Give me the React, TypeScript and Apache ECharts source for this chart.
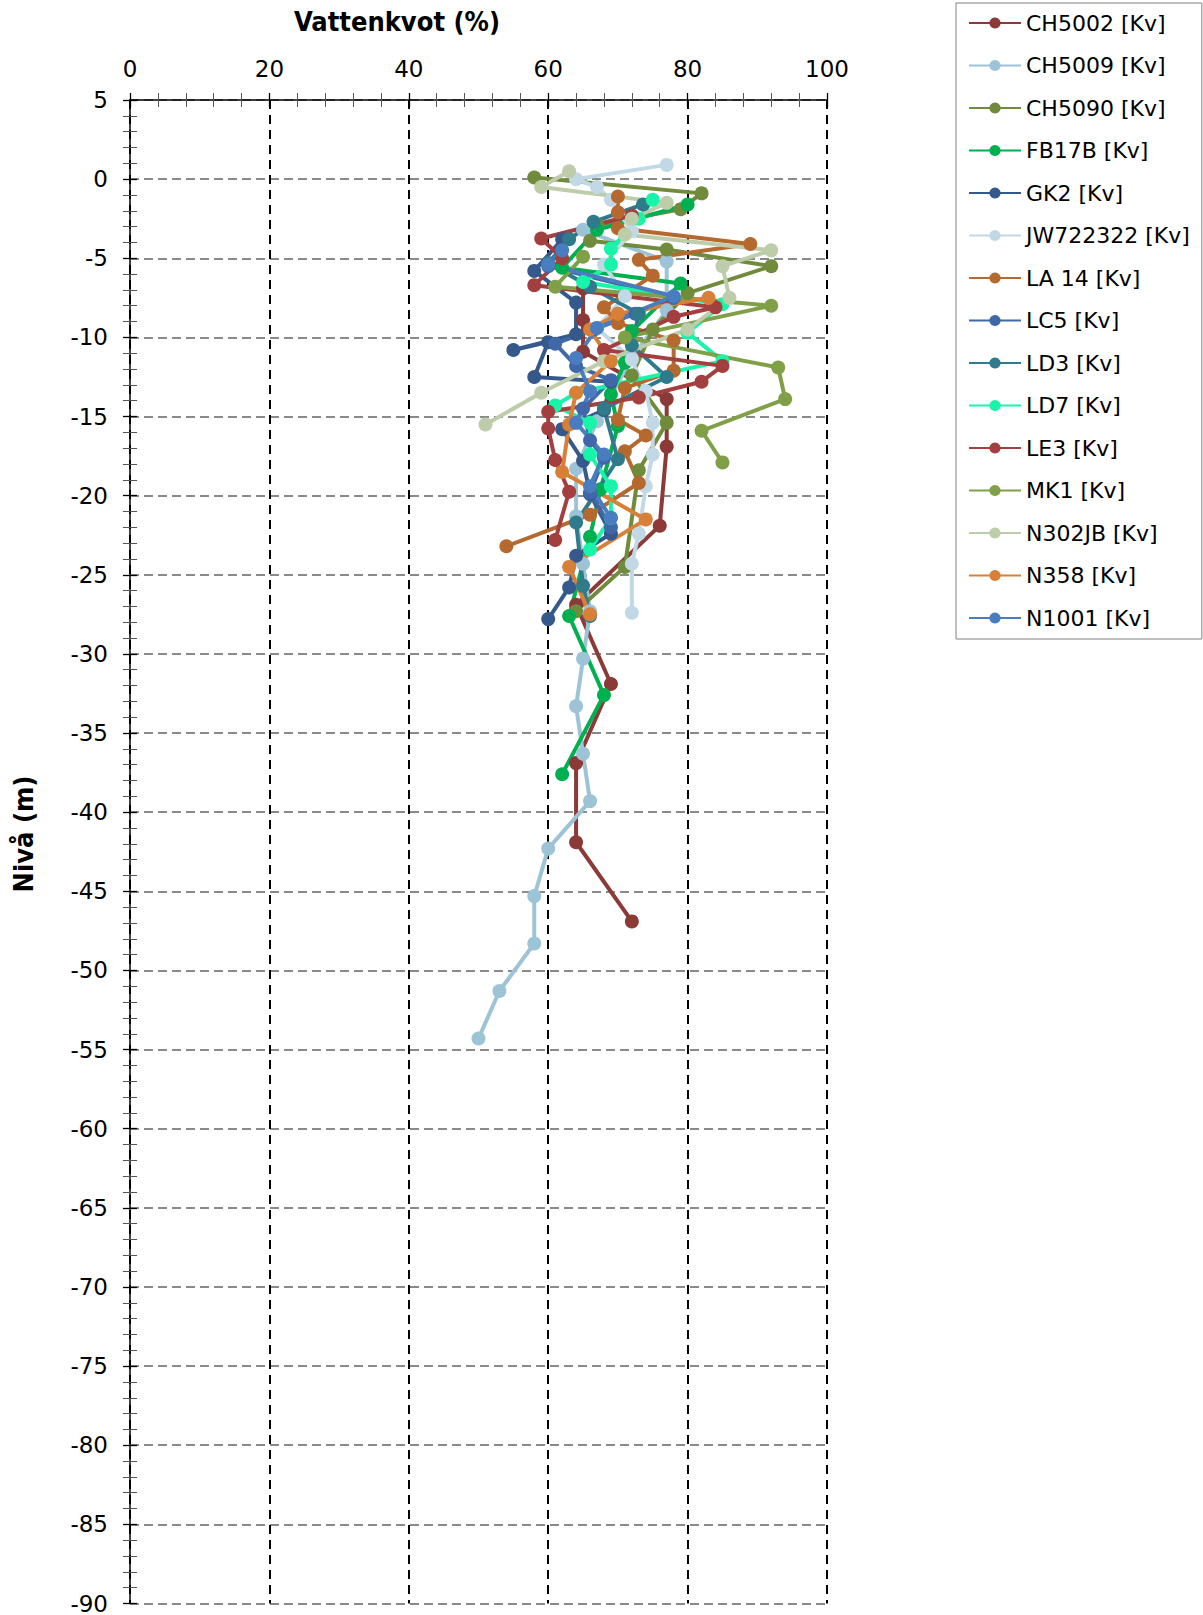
import React, { useEffect, useRef } from 'react';
import * as echarts from 'echarts';

// ---- data: [vattenkvot (%), nivå (m)] ----
const CH5002: number[][] = [[65, -6.9], [65, -8.9], [65, -10.9], [77, -13.9], [77, -16.9], [76, -21.9], [64, -26.9], [69, -31.9], [64, -36.9], [64, -41.9], [72, -46.9]];
const CH5009: number[][] = [[65, -3.2], [77, -5.2], [77, -8.3], [72, -11.3], [67, -15.3], [64, -18.3], [64, -21.3], [65, -24.3], [66, -27.3], [65, -30.3], [64, -33.3], [65, -36.3], [66, -39.3], [60, -42.3], [58, -45.3], [58, -48.3], [53, -51.3], [50, -54.3]];
const CH5090: number[][] = [[58, 0.1], [82, -0.9], [79, -1.9], [67, -2.9], [66, -3.9], [77, -4.45], [92, -5.5], [80, -7.2], [75, -9.5], [72, -12.4], [77, -15.4], [73, -18.4], [71, -24.5], [64, -27.3]];
const FB17B: number[][] = [[80, -1.6], [67, -3.2], [62, -5.6], [79, -6.6], [72, -9.6], [71, -11.6], [69, -13.6], [70, -15.6], [67.5, -19.6], [66, -22.6], [63, -27.6], [68, -32.6], [62, -37.6]];
const GK2: number[][] = [[62, -3.8], [58, -5.8], [64, -7.8], [64, -9.8], [55, -10.8], [60, -10.3], [58, -12.5], [69, -12.8], [68, -14.6], [62, -15.8], [65, -17.8], [66, -19.9], [69, -22.4], [64, -23.8], [63, -25.8], [60, -27.8]];
const JW722322: number[][] = [[77, 0.9], [64, 0.0], [67, -0.5], [69, -1.3], [72, -3.3], [68, -5.4], [71, -7.4], [67, -9.4], [72, -11.4], [74, -13.4], [75, -15.4], [75, -17.4], [74, -19.4], [73, -22.4], [72, -24.3], [72, -27.4]];
const LA14: number[][] = [[70, -1.1], [70, -2.1], [70, -3.1], [89, -4.1], [73, -5.1], [75, -6.1], [68, -8.1], [70, -9.1], [78, -10.2], [78, -12.1], [71, -13.2], [70, -15.2], [74, -16.2], [71, -17.2], [73, -19.2], [66, -21.2], [54, -23.2]];
const LC5: number[][] = [[60, -5.5], [78, -7.5], [72.5, -8.5], [66.6, -9.5], [61, -10.4], [64, -11.8], [69, -12.7], [65, -14.5], [66, -16.5], [68, -17.6], [66, -19.8], [69, -22.0]];
const LD3: number[][] = [[73.6, -1.6], [66.5, -2.7], [63, -3.8], [60, -5.3], [66, -6.8], [73, -8.5], [72, -10.5], [77, -12.5], [68, -14.5], [70, -17.7], [64, -21.7], [65, -25.7], [66, -27.6]];
const LD7: number[][] = [[75, -1.3], [73, -2.5], [69, -4.4], [69, -5.4], [65, -6.5], [85, -7.9], [80, -9.7], [85, -11.5], [64, -13.5], [61, -14.3], [66, -15.4], [66, -17.4], [69, -19.4], [69, -21.4], [66, -23.4]];
const LE3: number[][] = [[72, -2.3], [59, -3.75], [62, -5.0], [58, -6.7], [84, -8.1], [78, -8.7], [68, -10.8], [85, -11.8], [82, -12.8], [73, -13.8], [60, -14.7], [60, -15.75], [61, -17.75], [63, -19.75], [61, -22.8]];
const MK1: number[][] = [[65, -4.9], [61, -6.8], [92, -8.0], [71, -10.0], [93, -11.9], [94, -13.9], [82, -15.9], [85, -17.9]];
const N302JB: number[][] = [[63, 0.5], [59, -0.5], [77, -1.5], [72, -2.5], [71, -3.5], [92, -4.5], [85, -5.5], [86, -7.5], [80, -9.5], [68, -11.5], [59, -13.5], [51, -15.5]];
const N358: number[][] = [[83, -7.5], [70, -8.5], [66, -9.5], [69, -11.5], [64, -13.5], [63, -15.5], [62, -18.5], [74, -21.5], [63, -24.5], [66, -27.5]];
const N1001: number[][] = [[62, -4.5], [60, -5.4], [78, -7.4], [67, -9.4], [64, -11.3], [66, -13.4], [64, -15.4], [68, -17.4], [66, -19.4], [69, -21.4]];

const seriesNames = ['CH5002 [Kv]', 'CH5009 [Kv]', 'CH5090 [Kv]', 'FB17B [Kv]', 'GK2 [Kv]', 'JW722322 [Kv]', 'LA 14 [Kv]', 'LC5 [Kv]', 'LD3 [Kv]', 'LD7 [Kv]', 'LE3 [Kv]', 'MK1 [Kv]', 'N302JB [Kv]', 'N358 [Kv]', 'N1001 [Kv]'];
const seriesData = [CH5002, CH5009, CH5090, FB17B, GK2, JW722322, LA14, LC5, LD3, LD7, LE3, MK1, N302JB, N358, N1001];
const seriesColors = ['#8b3a37', '#9dc3d6', '#6f8b3b', '#00b050', '#36598b', '#c1d9e6', '#b5692f', '#4068a8', '#2f7b8c', '#19f5a8', '#a33f3f', '#80a048', '#bdcca9', '#d98038', '#4a7dbf'];

const xMin = 0, xMax = 100, xInterval = 20;
const yMin = -90, yMax = 5, yInterval = 5;

export default function App() {
  const ref = useRef<HTMLDivElement>(null);
  useEffect(() => {
    document.body.style.margin = '0';
    const chart = echarts.init(ref.current!, null, { renderer: 'svg' });
    const tickFont = 'DejaVu Sans';
    const option: any = {
      animation: false,
      backgroundColor: '#fff',
      grid: { left: 130, top: 100, width: 697, height: 1504, containLabel: false },
      xAxis: [
        {
          type: 'value', position: 'top', min: xMin, max: xMax, interval: xInterval,
          axisLine: { show: true, onZero: false, lineStyle: { color: '#000', width: 1.5 } },
          axisTick: { show: true, length: 7, lineStyle: { color: '#000', width: 1.3 } },
          minorTick: { show: true, splitNumber: 5, length: 7, lineStyle: { color: '#555', width: 1 } },
          splitLine: { show: true, lineStyle: { color: '#000', type: [9, 6], width: 2 } },
          axisLabel: { fontSize: 23, color: '#000', fontFamily: tickFont, margin: 20 },
        },
        {
          type: 'value', position: 'top', min: xMin, max: xMax, interval: xInterval,
          axisLine: { show: false, onZero: false },
          axisTick: { show: true, inside: true, length: 7, lineStyle: { color: '#000', width: 1.3 } },
          minorTick: { show: true, splitNumber: 5, length: 7, lineStyle: { color: '#555', width: 1 } },
          splitLine: { show: false },
          axisLabel: { show: false },
        },
      ],
      yAxis: [
        {
          type: 'value', position: 'left', min: yMin, max: yMax, interval: yInterval,
          axisLine: { show: true, onZero: false, lineStyle: { color: '#000', width: 1.5 } },
          axisTick: { show: true, length: 7, lineStyle: { color: '#000', width: 1.3 } },
          minorTick: { show: true, splitNumber: 5, length: 7, lineStyle: { color: '#555', width: 1 } },
          splitLine: { show: true, lineStyle: { color: '#8a8a8a', type: [9, 5], width: 2 } },
          axisLabel: { fontSize: 23, color: '#000', fontFamily: tickFont, margin: 22 },
        },
        {
          type: 'value', position: 'left', min: yMin, max: yMax, interval: yInterval,
          axisLine: { show: false, onZero: false },
          axisTick: { show: true, inside: true, length: 7, lineStyle: { color: '#000', width: 1.3 } },
          minorTick: { show: true, splitNumber: 5, length: 7, lineStyle: { color: '#555', width: 1 } },
          splitLine: { show: false },
          axisLabel: { show: false },
        },
      ],
      legend: {
        orient: 'vertical', left: 956, top: 3,
        padding: [9, 12, 10, 12], itemGap: 20.5, itemWidth: 52, itemHeight: 14, itemTextGap: 6,
        borderColor: '#808080', borderWidth: 1, backgroundColor: '#fff',
        textStyle: { fontSize: 22, color: '#000', fontFamily: tickFont },
        data: seriesNames,
      },
      graphic: [
        {
          type: 'text', x: 397, y: 21,
          style: { text: 'Vattenkvot (%)', textAlign: 'center', textVerticalAlign: 'middle', fontSize: 27, fontWeight: 'bold', fontFamily: 'DejaVu Sans Condensed, DejaVu Sans', fill: '#000' },
        },
        {
          type: 'text', x: 23, y: 834, rotation: Math.PI / 2,
          style: { text: 'Nivå (m)', textAlign: 'center', textVerticalAlign: 'middle', fontSize: 27, fontWeight: 'bold', fontFamily: 'DejaVu Sans Condensed, DejaVu Sans', fill: '#000' },
        },
      ],
      series: seriesNames.map((name, i) => ({
        name, type: 'line', xAxisIndex: 0, yAxisIndex: 0,
        data: seriesData[i],
        symbol: 'circle', symbolSize: 14, showSymbol: true,
        lineStyle: { color: seriesColors[i], width: 4 },
        itemStyle: { color: seriesColors[i] },
        emphasis: { disabled: true },
      })),
    };
    chart.setOption(option);
    return () => chart.dispose();
  }, []);
  return <div ref={ref} style={{ width: 1203, height: 1615 }} />;
}
